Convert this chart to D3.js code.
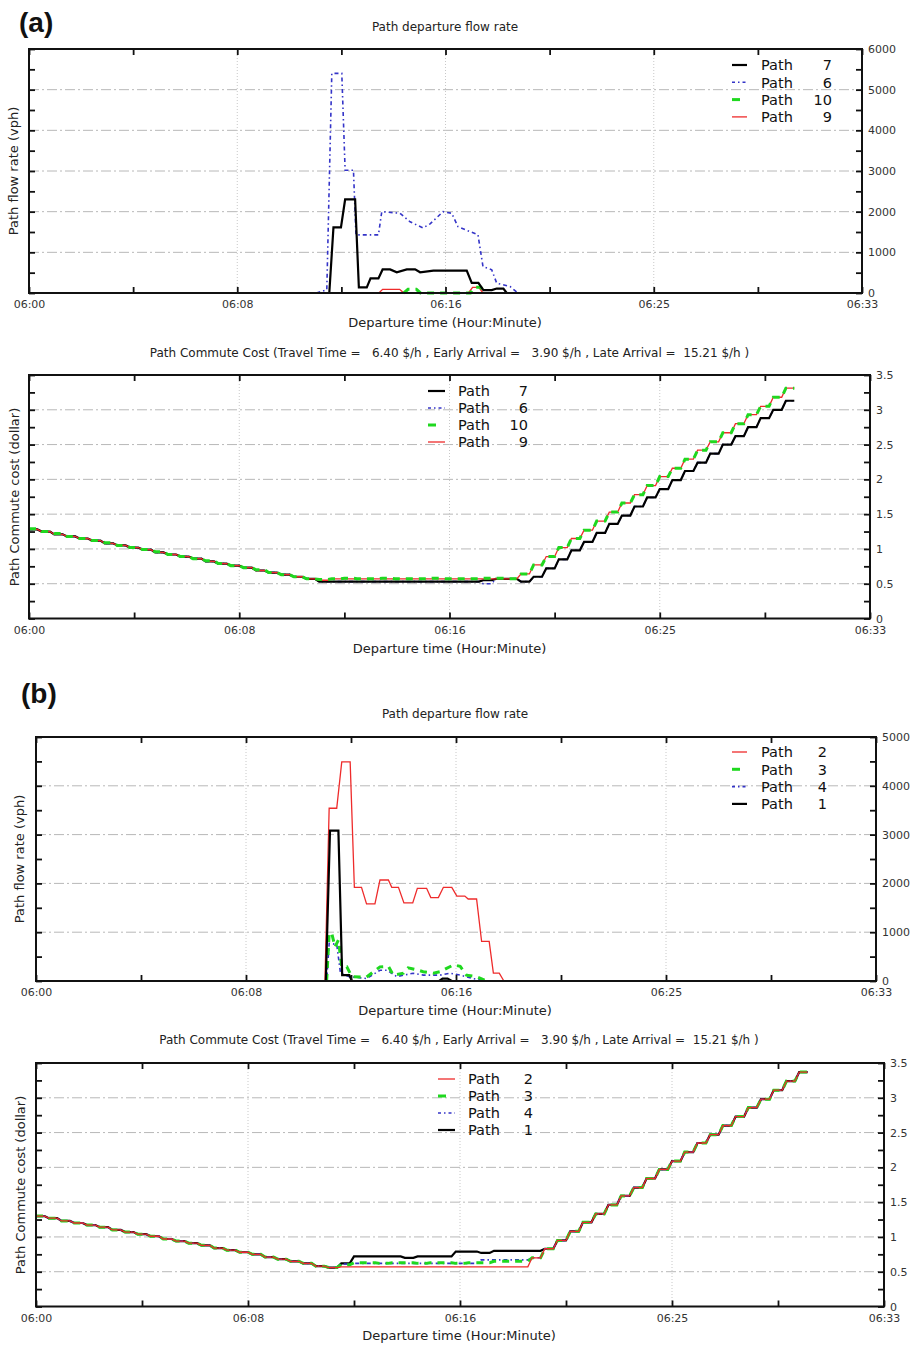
<!DOCTYPE html>
<html>
<head>
<meta charset="utf-8">
<script src="https://cdn.jsdelivr.net/npm/d3@7"></script>
<style>
body { margin: 0; background: #fff; }
svg text { font-family: "DejaVu Sans", Verdana, sans-serif; }
</style>
</head>
<body>
<svg id="fig" width="914" height="1345"></svg>
<script>
// time axis: seconds after 06:00
var xMajor = [0, 500, 1000, 1500, 2000];
var xMinor = [0, 250, 500, 750, 1000, 1250, 1500, 1750, 2000];

var flowMajorA = [0, 1000, 2000, 3000, 4000, 5000, 6000];
var flowMinorA = [0, 500, 1000, 1500, 2000, 2500, 3000, 3500, 4000, 4500, 5000, 5500, 6000];
var flowMajorB = [0, 1000, 2000, 3000, 4000, 5000];
var flowMinorB = [0, 500, 1000, 1500, 2000, 2500, 3000, 3500, 4000, 4500, 5000];
var costMajor = [0, 0.5, 1, 1.5, 2, 2.5, 3, 3.5];
var costMinor = [0, 0.25, 0.5, 0.75, 1, 1.25, 1.5, 1.75, 2, 2.25, 2.5, 2.75, 3, 3.25, 3.5];

var flowTitle = "Path departure flow rate";
var costTitle = "Path Commute Cost (Travel Time =   6.40 $/h , Early Arrival =   3.90 $/h , Late Arrival =  15.21 $/h )";

// ---- (a) departure flow rate (vph)
var flowA7_t = [721, 731, 749, 759, 783, 792, 811, 820, 839, 849, 867, 883, 907, 927, 939, 971, 1051, 1063, 1079, 1091, 1111, 1123, 1139, 1147];
var flowA7_v = [0, 1615, 1615, 2300, 2300, 140, 140, 360, 360, 580, 580, 510, 580, 580, 510, 550, 550, 250, 250, 70, 70, 110, 110, 0];
var flowA6_t = [690, 715, 727, 751, 759, 779, 785, 839, 847, 891, 915, 946, 963, 994, 1015, 1030, 1078, 1090, 1111, 1123, 1155, 1174];
var flowA6_v = [0, 80, 5400, 5400, 3020, 3020, 1430, 1430, 2000, 1960, 1750, 1600, 1700, 2000, 1960, 1630, 1430, 650, 570, 240, 160, 0];
var flowA10_t = [900, 910, 930, 940, 1060, 1070, 1085, 1095];
var flowA10_v = [0, 90, 90, 0, 0, 140, 140, 0];
var flowA9_t = [840, 849, 890, 900, 1055, 1065, 1080, 1090];
var flowA9_v = [0, 90, 90, 0, 0, 140, 140, 0];

// ---- (b) departure flow rate (vph)
var flowB2_t = [688, 698, 716, 728, 748, 758, 775, 787, 807, 819, 839, 847, 863, 876, 897, 908, 930, 940, 958, 970, 990, 1002, 1021, 1029, 1049, 1061, 1079, 1089, 1103, 1114];
var flowB2_v = [0, 3540, 3540, 4490, 4490, 1920, 1920, 1580, 1580, 2070, 2070, 1920, 1920, 1600, 1600, 1900, 1900, 1710, 1710, 1920, 1920, 1740, 1740, 1680, 1680, 810, 810, 160, 160, 0];
var flowB3_t = [692, 698, 704, 712, 720, 728, 740, 752, 787, 819, 839, 851, 875, 886, 902, 922, 946, 962, 994, 1010, 1025, 1049, 1073];
var flowB3_v = [0, 980, 980, 700, 840, 290, 290, 90, 80, 290, 300, 120, 160, 270, 240, 190, 160, 190, 330, 300, 120, 90, 0];
var flowB4_t = [692, 698, 716, 725, 746, 787, 819, 836, 859, 898, 922, 962, 986, 1010, 1041, 1073];
var flowB4_v = [0, 770, 750, 160, 90, 50, 220, 220, 90, 160, 120, 120, 160, 120, 50, 0];
var flowB1_t = [690, 700, 720, 729, 746, 752, 960, 968, 980, 990];
var flowB1_v = [0, 3080, 3080, 120, 120, 0, 0, 50, 50, 0];

// ---- commute cost (dollar), one value every 30 s
var costTimes = [0, 30, 60, 90, 120, 150, 180, 210, 240, 270, 300, 330, 360, 390, 420, 450, 480, 510, 540, 570, 600, 630, 660, 690, 720, 750, 780, 810, 840, 870, 900, 930, 960, 990, 1020, 1050, 1080, 1110, 1140, 1170, 1200, 1230, 1260, 1290, 1320, 1350, 1380, 1410, 1440, 1470, 1500, 1530, 1560, 1590, 1620, 1650, 1680, 1710, 1740, 1770, 1800];

var costA7 = [1.28, 1.25, 1.21, 1.18, 1.15, 1.12, 1.08, 1.05, 1.02, 0.99, 0.95, 0.92, 0.89, 0.86, 0.82, 0.79, 0.76, 0.73, 0.69, 0.66, 0.63, 0.60, 0.57, 0.53,
  0.53, 0.53, 0.53, 0.53, 0.53, 0.53, 0.53, 0.53, 0.53, 0.53, 0.53, 0.53, 0.55, 0.57, 0.57, 0.53,
  0.60, 0.72, 0.85, 0.98, 1.10, 1.23, 1.36, 1.48, 1.61, 1.74, 1.86, 1.99, 2.12, 2.24, 2.37, 2.50, 2.62, 2.75, 2.88, 3.00, 3.13];
var costA6 = [1.28, 1.25, 1.21, 1.18, 1.15, 1.12, 1.08, 1.05, 1.02, 0.99, 0.95, 0.92, 0.89, 0.86, 0.82, 0.79, 0.76, 0.73, 0.69, 0.66, 0.63, 0.60, 0.57, 0.53,
  0.53, 0.53, 0.53, 0.53, 0.53, 0.53, 0.53, 0.53, 0.53, 0.53, 0.53, 0.53, 0.50, 0.57, 0.57, 0.53,
  0.60, 0.72, 0.85, 0.98, 1.10, 1.23, 1.36, 1.48, 1.61, 1.74, 1.86, 1.99, 2.12, 2.24, 2.37, 2.50, 2.62, 2.75, 2.88, 3.00, 3.13];
var costA10 = [1.29, 1.25, 1.22, 1.18, 1.15, 1.12, 1.09, 1.05, 1.02, 0.99, 0.96, 0.92, 0.89, 0.86, 0.83, 0.79, 0.76, 0.73, 0.70, 0.66, 0.63, 0.60, 0.57, 0.56,
  0.57, 0.58, 0.57, 0.57, 0.58, 0.57, 0.57, 0.57, 0.58, 0.57, 0.57, 0.57, 0.58, 0.58, 0.57,
  0.64, 0.77, 0.89, 1.02, 1.15, 1.27, 1.40, 1.53, 1.66, 1.78, 1.91, 2.04, 2.16, 2.29, 2.42, 2.54, 2.67, 2.80, 2.93, 3.05, 3.18, 3.31];
var costA9 = [1.28, 1.25, 1.21, 1.18, 1.15, 1.12, 1.08, 1.05, 1.02, 0.99, 0.95, 0.92, 0.89, 0.86, 0.82, 0.79, 0.76, 0.73, 0.69, 0.66, 0.63, 0.60, 0.57, 0.55,
  0.57, 0.57, 0.57, 0.57, 0.57, 0.57, 0.57, 0.57, 0.57, 0.57, 0.57, 0.57, 0.57, 0.57, 0.57,
  0.64, 0.77, 0.89, 1.02, 1.15, 1.27, 1.40, 1.53, 1.66, 1.78, 1.91, 2.04, 2.16, 2.29, 2.42, 2.54, 2.67, 2.80, 2.93, 3.05, 3.18, 3.31];

var costB2 = [1.30, 1.27, 1.23, 1.20, 1.17, 1.14, 1.10, 1.07, 1.04, 1.01, 0.97, 0.94, 0.91, 0.88, 0.84, 0.81, 0.78, 0.75, 0.71, 0.68, 0.65, 0.62, 0.58, 0.56,
  0.57, 0.57, 0.57, 0.57, 0.57, 0.57, 0.57, 0.57, 0.57, 0.57, 0.57, 0.57, 0.57, 0.57, 0.57,
  0.70, 0.83, 0.95, 1.08, 1.21, 1.33, 1.46, 1.59, 1.71, 1.84, 1.97, 2.09, 2.22, 2.35, 2.47, 2.60, 2.73, 2.86, 2.98, 3.11, 3.24, 3.37];
var costB3 = [1.30, 1.27, 1.23, 1.20, 1.17, 1.14, 1.10, 1.07, 1.04, 1.01, 0.97, 0.94, 0.91, 0.88, 0.84, 0.81, 0.78, 0.75, 0.71, 0.68, 0.65, 0.62, 0.58, 0.56,
  0.60, 0.63, 0.63, 0.62, 0.63, 0.63, 0.62, 0.63, 0.63, 0.62, 0.63, 0.63, 0.65, 0.65, 0.65,
  0.70, 0.83, 0.95, 1.08, 1.21, 1.33, 1.46, 1.59, 1.71, 1.84, 1.97, 2.09, 2.22, 2.35, 2.47, 2.60, 2.73, 2.86, 2.98, 3.11, 3.24, 3.37];
var costB4 = [1.30, 1.27, 1.23, 1.20, 1.17, 1.14, 1.10, 1.07, 1.04, 1.01, 0.97, 0.94, 0.91, 0.88, 0.84, 0.81, 0.78, 0.75, 0.71, 0.68, 0.65, 0.62, 0.58, 0.56,
  0.61, 0.62, 0.62, 0.62, 0.62, 0.62, 0.62, 0.62, 0.62, 0.62, 0.62, 0.67, 0.67, 0.67, 0.67,
  0.70, 0.83, 0.95, 1.08, 1.21, 1.33, 1.46, 1.59, 1.71, 1.84, 1.97, 2.09, 2.22, 2.35, 2.47, 2.60, 2.73, 2.86, 2.98, 3.11, 3.24, 3.37];
var costB1 = [1.30, 1.27, 1.23, 1.20, 1.17, 1.14, 1.10, 1.07, 1.04, 1.01, 0.97, 0.94, 0.91, 0.88, 0.84, 0.81, 0.78, 0.75, 0.71, 0.68, 0.65, 0.62, 0.58, 0.56,
  0.62, 0.72, 0.72, 0.72, 0.72, 0.70, 0.72, 0.72, 0.72, 0.79, 0.79, 0.77, 0.80, 0.80, 0.80, 0.80,
  0.83, 0.95, 1.08, 1.21, 1.33, 1.46, 1.59, 1.71, 1.84, 1.97, 2.09, 2.22, 2.35, 2.47, 2.60, 2.73, 2.86, 2.98, 3.11, 3.24, 3.37];

var lineStyles = {
  black: { stroke: "#000", width: 2.2, dash: null, legendDash: null },
  blue:  { stroke: "#3434c8", width: 1.6, dash: "4,3,1.5,3", legendDash: "3,3,1.5,3" },
  green: { stroke: "#1fd81f", width: 3, dash: "7,6", legendDash: "8,20" },
  red:   { stroke: "#ee2b2b", width: 1.3, dash: null, legendDash: null }
};

var svg = d3.select("#fig");

function zipPoints(ts, vs) {
  return ts.map(function (t, i) { return [t, vs[i]]; });
}

// each cost value is held 20 s, then ramps to the next one
function stairPoints(ts, vs) {
  var pts = [];
  ts.forEach(function (t, i) {
    pts.push([t, vs[i]]);
    pts.push([t + 20, vs[i]]);
  });
  return pts;
}

function timeLabel(s) {
  return "06:" + String(Math.floor(s / 60)).padStart(2, "0");
}

function styleTicks(sel) {
  sel.select(".domain").remove();
  sel.selectAll(".tick line").attr("stroke", "#111").attr("stroke-width", 1.8);
  sel.selectAll(".tick text")
    .attr("fill", "#333")
    .style("font-family", "'DejaVu Sans', sans-serif")
    .style("font-size", "11px");
}

function drawPanel(p) {
  var g = svg.append("g");
  var x = d3.scaleLinear().domain([0, 2000]).range([p.left, p.right]);
  var y = d3.scaleLinear().domain([0, p.yMax]).range([p.bottom, p.top]);

  // grid
  g.append("g").selectAll("line")
    .data(p.yMajor.filter(function (d) { return d > 0 && d < p.yMax; }))
    .join("line")
    .attr("x1", p.left).attr("x2", p.right)
    .attr("y1", function (d) { return y(d); }).attr("y2", function (d) { return y(d); })
    .attr("stroke", "#b8b8b8").attr("stroke-width", 1)
    .attr("stroke-dasharray", "10,3,2,3");
  g.append("g").selectAll("line")
    .data(xMajor.slice(1, -1))
    .join("line")
    .attr("x1", function (d) { return x(d); }).attr("x2", function (d) { return x(d); })
    .attr("y1", p.top).attr("y2", p.bottom)
    .attr("stroke", "#c8c8c8").attr("stroke-width", 1)
    .attr("stroke-dasharray", "1,2");

  // series
  var line = d3.line().x(function (d) { return x(d[0]); }).y(function (d) { return y(d[1]); });
  p.draw.forEach(function (s) {
    var st = lineStyles[s.color];
    g.append("path")
      .datum(s.points)
      .attr("d", line)
      .attr("fill", "none")
      .attr("stroke", st.stroke)
      .attr("stroke-width", st.width)
      .attr("stroke-dasharray", st.dash);
  });

  // frame
  g.append("rect")
    .attr("x", p.left).attr("y", p.top)
    .attr("width", p.right - p.left).attr("height", p.bottom - p.top)
    .attr("fill", "none").attr("stroke", "#111").attr("stroke-width", 2);

  // ticks pointing inward
  g.append("g").attr("transform", "translate(0," + p.bottom + ")")
    .call(d3.axisBottom(x).tickValues(xMinor).tickSize(-6).tickFormat(""))
    .call(styleTicks);
  g.append("g").attr("transform", "translate(0," + p.top + ")")
    .call(d3.axisTop(x).tickValues(xMinor).tickSize(-6).tickFormat(""))
    .call(styleTicks);
  g.append("g").attr("transform", "translate(" + p.left + ",0)")
    .call(d3.axisLeft(y).tickValues(p.yMinor).tickSize(-6).tickFormat(""))
    .call(styleTicks);
  g.append("g").attr("transform", "translate(" + p.right + ",0)")
    .call(d3.axisRight(y).tickValues(p.yMinor).tickSize(-6).tickFormat(""))
    .call(styleTicks);

  // labels
  g.append("g").attr("transform", "translate(0," + p.bottom + ")")
    .call(d3.axisBottom(x).tickValues(xMajor).tickSize(0).tickPadding(p.xPad).tickFormat(timeLabel))
    .call(styleTicks);
  g.append("g").attr("transform", "translate(" + p.right + ",0)")
    .call(d3.axisRight(y).tickValues(p.yMajor).tickSize(0).tickPadding(6)
      .tickFormat(function (d) { return String(d); }))
    .call(styleTicks);

  // titles
  g.append("text")
    .attr("x", p.titleX).attr("y", p.titleY)
    .attr("text-anchor", "middle")
    .attr("fill", "#222")
    .style("font-size", "12px")
    .style("white-space", "pre")
    .text(p.title);
  g.append("text")
    .attr("x", p.titleX).attr("y", p.xTitleY)
    .attr("text-anchor", "middle")
    .attr("fill", "#222")
    .style("font-size", "13px")
    .text("Departure time (Hour:Minute)");
  g.append("text")
    .attr("transform", "translate(" + p.yTitleX + "," + p.yTitleY + ") rotate(-90)")
    .attr("text-anchor", "middle")
    .attr("dy", "0.35em")
    .attr("fill", "#222")
    .style("font-size", "13px")
    .text(p.yTitle);

  // legend
  var lg = p.legend;
  var rows = g.append("g").selectAll("g")
    .data(p.legendRows)
    .join("g")
    .attr("transform", function (d, i) { return "translate(0," + (lg.y0 + i * lg.dy) + ")"; });
  rows.append("line")
    .attr("x1", lg.x1).attr("x2", lg.x2)
    .attr("stroke", function (d) { return lineStyles[d.color].stroke; })
    .attr("stroke-width", function (d) { return lineStyles[d.color].width; })
    .attr("stroke-dasharray", function (d) { return lineStyles[d.color].legendDash; });
  rows.append("text")
    .attr("x", lg.textX).attr("dy", "0.36em")
    .attr("fill", "#111")
    .style("font-size", "14.5px")
    .text("Path");
  rows.append("text")
    .attr("x", lg.numX).attr("dy", "0.36em")
    .attr("text-anchor", "end")
    .attr("fill", "#111")
    .style("font-size", "14.5px")
    .text(function (d) { return d.name; });
}

function panelLetter(txt, x, y) {
  svg.append("text")
    .attr("x", x).attr("y", y)
    .style("font-family", "'Liberation Sans', Arial, sans-serif")
    .style("font-size", "28px")
    .style("font-weight", "bold")
    .attr("fill", "#111")
    .text(txt);
}

panelLetter("(a)", 19, 32);
panelLetter("(b)", 21, 703);

drawPanel({
  left: 29, right: 862, top: 49, bottom: 293, yMax: 6000,
  yMajor: flowMajorA, yMinor: flowMinorA, xPad: 7,
  title: flowTitle, titleX: 445, titleY: 31, xTitleY: 327,
  yTitle: "Path flow rate (vph)", yTitleX: 13.5, yTitleY: 171,
  draw: [
    { color: "red", points: zipPoints(flowA9_t, flowA9_v) },
    { color: "green", points: zipPoints(flowA10_t, flowA10_v) },
    { color: "blue", points: zipPoints(flowA6_t, flowA6_v) },
    { color: "black", points: zipPoints(flowA7_t, flowA7_v) }
  ],
  legendRows: [
    { name: "7", color: "black" }, { name: "6", color: "blue" },
    { name: "10", color: "green" }, { name: "9", color: "red" }
  ],
  legend: { x1: 732, x2: 747, textX: 761, numX: 832, y0: 65, dy: 17.3 }
});

drawPanel({
  left: 29, right: 870, top: 375, bottom: 618.5, yMax: 3.5,
  yMajor: costMajor, yMinor: costMinor, xPad: 7.5,
  title: costTitle, titleX: 449.5, titleY: 357, xTitleY: 653,
  yTitle: "Path Commute cost (dollar)", yTitleX: 14, yTitleY: 497,
  draw: [
    { color: "blue", points: stairPoints(costTimes, costA6) },
    { color: "black", points: stairPoints(costTimes, costA7) },
    { color: "red", points: stairPoints(costTimes, costA9) },
    { color: "green", points: stairPoints(costTimes, costA10) }
  ],
  legendRows: [
    { name: "7", color: "black" }, { name: "6", color: "blue" },
    { name: "10", color: "green" }, { name: "9", color: "red" }
  ],
  legend: { x1: 428, x2: 445, textX: 458, numX: 528, y0: 391, dy: 17 }
});

drawPanel({
  left: 36, right: 876, top: 737, bottom: 981, yMax: 5000,
  yMajor: flowMajorB, yMinor: flowMinorB, xPad: 7,
  title: flowTitle, titleX: 455, titleY: 718, xTitleY: 1015,
  yTitle: "Path flow rate (vph)", yTitleX: 19, yTitleY: 859,
  draw: [
    { color: "red", points: zipPoints(flowB2_t, flowB2_v) },
    { color: "blue", points: zipPoints(flowB4_t, flowB4_v) },
    { color: "green", points: zipPoints(flowB3_t, flowB3_v) },
    { color: "black", points: zipPoints(flowB1_t, flowB1_v) }
  ],
  legendRows: [
    { name: "2", color: "red" }, { name: "3", color: "green" },
    { name: "4", color: "blue" }, { name: "1", color: "black" }
  ],
  legend: { x1: 732, x2: 747, textX: 761, numX: 827, y0: 752, dy: 17.3 }
});

drawPanel({
  left: 36, right: 884, top: 1063, bottom: 1306.5, yMax: 3.5,
  yMajor: costMajor, yMinor: costMinor, xPad: 7.5,
  title: costTitle, titleX: 459, titleY: 1044, xTitleY: 1340,
  yTitle: "Path Commute cost (dollar)", yTitleX: 20, yTitleY: 1185,
  draw: [
    { color: "black", points: stairPoints(costTimes, costB1) },
    { color: "blue", points: stairPoints(costTimes, costB4) },
    { color: "green", points: stairPoints(costTimes, costB3) },
    { color: "red", points: stairPoints(costTimes, costB2) }
  ],
  legendRows: [
    { name: "2", color: "red" }, { name: "3", color: "green" },
    { name: "4", color: "blue" }, { name: "1", color: "black" }
  ],
  legend: { x1: 438, x2: 455, textX: 468, numX: 533, y0: 1079, dy: 17 }
});
</script>
</body>
</html>
